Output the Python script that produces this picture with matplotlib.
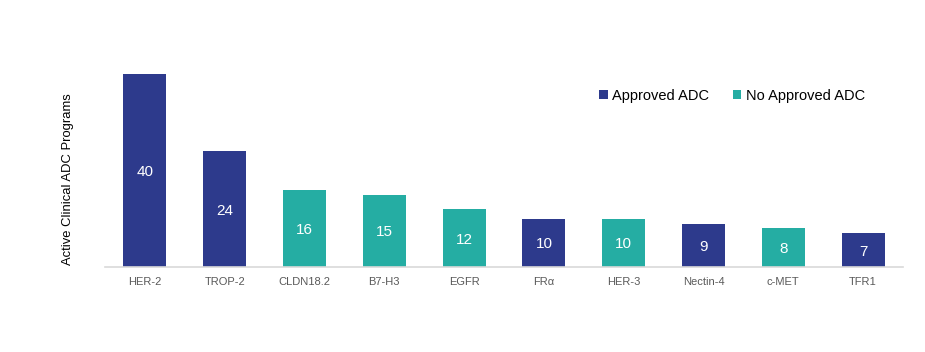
import matplotlib
matplotlib.use("Agg")
import matplotlib.pyplot as plt
from matplotlib.patches import Patch

plt.rcParams['font.family'] = ['Liberation Sans', 'DejaVu Sans']

categories = ["HER-2", "TROP-2", "CLDN18.2", "B7-H3", "EGFR", "FRα", "HER-3", "Nectin-4", "c-MET", "TFR1"]
values = [40, 24, 16, 15, 12, 10, 10, 9, 8, 7]
approved = [True, True, False, False, False, True, False, True, False, True]

NAVY = "#2D3A8C"
TEAL = "#25ADA3"

fig = plt.figure(figsize=(9.25, 3.52), dpi=100)
ax = fig.add_axes([105/925, 85/352, (903-105)/925, (267-49.6)/352])

colors = [NAVY if a else TEAL for a in approved]
x = list(range(len(categories)))
bars = ax.bar(x, values, width=0.54, color=colors)
for xi, v in zip(x, values):
    ax.text(xi, v/2, str(v), ha='center', va='center_baseline', color='white',
            fontsize=11, fontweight='medium')

ax.set_xlim(-0.5, 9.5)
ax.set_ylim(0, 45)
ax.set_xticks(x)
ax.set_xticklabels(categories, fontsize=8, color='#595959')
ax.tick_params(axis='x', length=0, pad=7)
ax.set_yticks([])
for s in ['top', 'right', 'left']:
    ax.spines[s].set_visible(False)
ax.spines['bottom'].set_color('#D9D9D9')
ax.spines['bottom'].set_linewidth(1.2)

fig.text(68/925, 1 - 179/352, "Active Clinical ADC Programs", rotation=90,
         ha='center', va='center', fontsize=9.4, color='black')

handles = [Patch(facecolor=NAVY, label="Approved ADC"), Patch(facecolor=TEAL, label="No Approved ADC")]
fig.legend(handles=handles, loc='center', bbox_to_anchor=(732/925, 1 - 96/352), ncol=2,
           frameon=False, fontsize=10.5, handlelength=0.6, handleheight=0.6,
           handletextpad=0.3, columnspacing=1.6)

fig.savefig("out.png", dpi=100)
